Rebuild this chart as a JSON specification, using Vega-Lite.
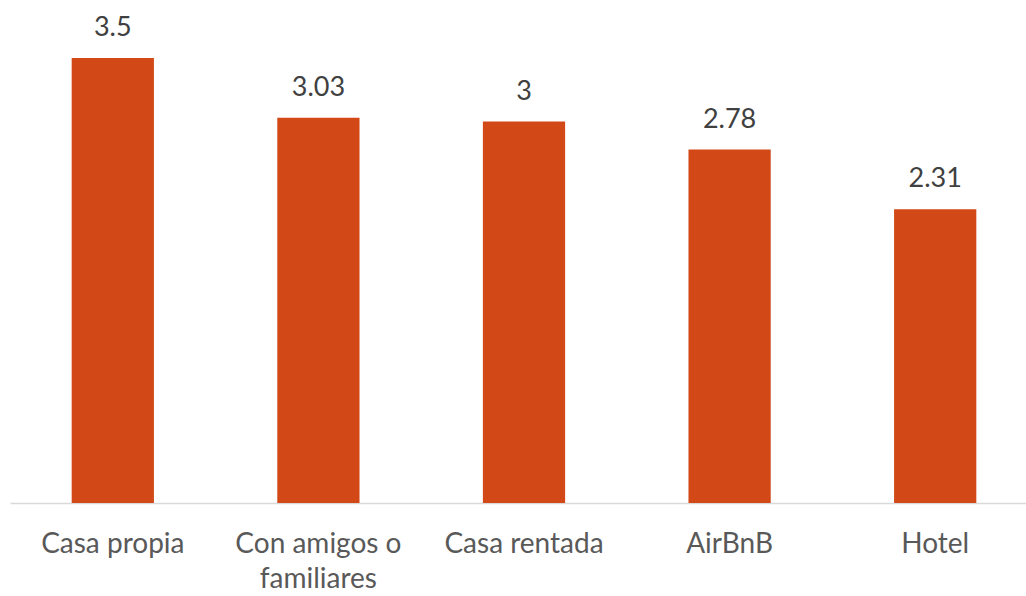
{
  "$schema": "https://vega.github.io/schema/vega-lite/v6.json",
  "width": 1028,
  "height": 503,
  "autosize": {"type": "none"},
  "padding": {"left": 10, "top": 0, "right": 0, "bottom": 93},
  "background": "white",
  "config": {"view": {"stroke": null}, "font": "Lato"},
  "data": {
    "values": [
      {"lugar": "Casa propia", "valor": 3.5, "etiqueta": "3.5"},
      {"lugar": "Con amigos o familiares", "valor": 3.03, "etiqueta": "3.03"},
      {"lugar": "Casa rentada", "valor": 3.0, "etiqueta": "3"},
      {"lugar": "AirBnB", "valor": 2.78, "etiqueta": "2.78"},
      {"lugar": "Hotel", "valor": 2.31, "etiqueta": "2.31"}
    ]
  },
  "encoding": {
    "x": {
      "field": "lugar",
      "type": "nominal",
      "sort": null,
      "scale": {"paddingInner": 0.6, "paddingOuter": 0.3},
      "axis": {
        "title": null,
        "ticks": false,
        "domainColor": "#D9D9D9",
        "domainWidth": 1.5,
        "labelAngle": 0,
        "labelFont": "Lato",
        "labelFontSize": 28,
        "labelFontWeight": "normal",
        "labelColor": "#595959",
        "labelBaseline": "alphabetic",
        "labelPadding": 49,
        "labelLineHeight": 35,
        "labelOverlap": false,
        "labelExpr": "datum.value == 'Con amigos o familiares' ? ['Con amigos o', 'familiares'] : datum.value"
      }
    },
    "y": {
      "field": "valor",
      "type": "quantitative",
      "scale": {"domain": [0, 3.956], "nice": false},
      "axis": null
    }
  },
  "layer": [
    {"mark": {"type": "bar", "color": "#D24816"}},
    {
      "mark": {"type": "text", "dy": -22, "baseline": "alphabetic", "fontSize": 27, "color": "#404040", "font": "Lato"},
      "encoding": {"text": {"field": "etiqueta"}}
    }
  ]
}
